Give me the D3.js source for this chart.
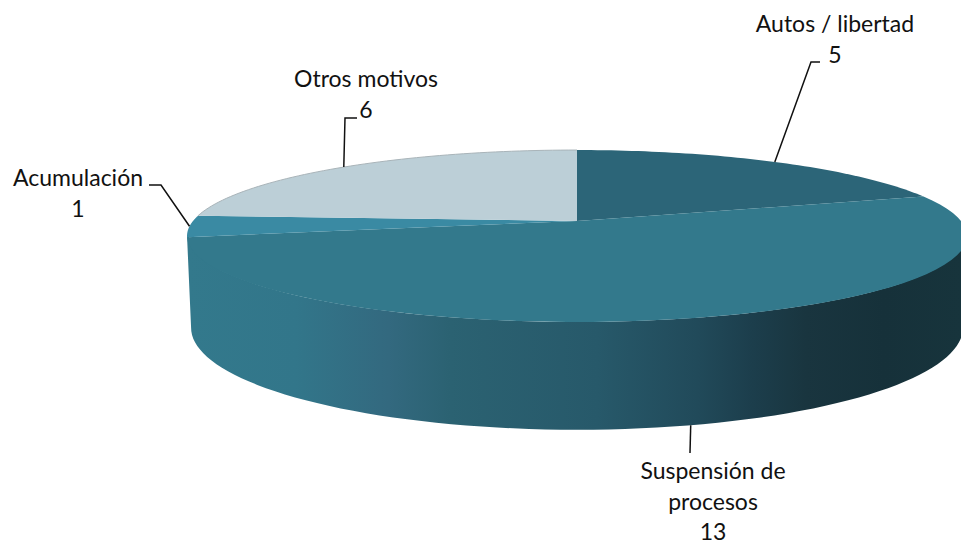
<!DOCTYPE html>
<html><head><meta charset="utf-8">
<script src="https://cdnjs.cloudflare.com/ajax/libs/d3/7.8.5/d3.min.js"></script>
<style>html,body{margin:0;padding:0;background:#fff}svg{display:block}
text{font-family:Lato,"Open Sans",sans-serif;font-size:23px;fill:#111}</style></head>
<body><svg id="c" width="961" height="544"></svg>
<script>
const categories = ["Autos / libertad","Suspensión de procesos","Acumulación","Otros motivos"];
const values = [5,13,1,6];
const topColors = ["#2c6578","#33798c","#3a8aa3","#bccfd7"];
const sideStops = [[0,"#33798c"],[0.14,"#32768a"],[0.26,"#33697f"],[0.34,"#2b6272"],[0.53,"#27596a"],[0.66,"#214a5a"],[0.73,"#1c3e4c"],[0.8,"#19353f"],[0.9,"#16313a"],[1,"#17343c"]];
const labelLines = [["Autos / libertad","5"],["Suspensión de","procesos","13"],["Acumulación","1"],["Otros motivos","6"]];
// label block: centre x, first baseline; leader elbow + end
const labelPos = [
 {x:835,y:32,elbow:[811,62],end:[820,62]},
 {x:713,y:479,elbow:[690,453],end:[690,453]},
 {x:78,y:186,elbow:[161,185],end:[149,185]},
 {x:366,y:87,elbow:[345,118],end:[357,118]}
];
const cx=577, cy=221, rx=384, persp=0.1744, ya=-44.8, depth=89, rxBottom=380;
const proj=(a,rad=rx)=>{const u=Math.sin(a),v=Math.cos(a),s=1/(1+persp*v);
  return [cx+rad*u*s,(cy+ya*v)*s];};
const projB=a=>{const v=Math.cos(a),s=1/(1+persp*v),p=proj(a,rxBottom);return [p[0],p[1]+depth*s];};
const arcs=d3.pie().sort(null).value(d=>d)(values);
const svg=d3.select("#c"),line=d3.line();
const grad=svg.append("defs").append("linearGradient").attr("id","side")
 .attr("gradientUnits","userSpaceOnUse").attr("x1",187).attr("x2",961).attr("y1",0).attr("y2",0);
sideStops.forEach(s=>grad.append("stop").attr("offset",s[0]).attr("stop-color",s[1]));
// side wall (tucked slightly under the top face so no seam shows)
const a0=100*Math.PI/180,a1=260*Math.PI/180;
const sweep=d3.range(0,81).map(i=>a0+(a1-a0)*i/80);
svg.append("path").attr("fill","url(#side)")
 .attr("d",line([proj(a0)].concat(sweep.map(a=>proj(a,rx-2)),[proj(a1)],sweep.slice().reverse().map(projB)))+"Z");
// top slices
svg.selectAll("path.top").data(arcs).join("path").attr("class","top")
 .attr("fill",(d,i)=>topColors[i])
 .attr("d",d=>{const n=60,pts=d3.range(n+1).map(i=>proj(d.startAngle+(d.endAngle-d.startAngle)*i/n));
   return line([[cx,cy]].concat(pts))+"Z";});
// rim of light slice
const o=arcs[3];
svg.append("path").attr("fill","none").attr("stroke","#a9b4b9").attr("stroke-width",1)
 .attr("d",line(d3.range(61).map(i=>proj(o.startAngle+(o.endAngle-o.startAngle)*i/60))));
// leaders
arcs.forEach((d,i)=>{const m=(d.startAngle+d.endAngle)/2,p=i===1?projB(m):proj(m),l=labelPos[i];
  svg.append("path").attr("fill","none").attr("stroke","#111").attr("stroke-width",1.5)
   .attr("d",line([p,l.elbow,l.end]));
  labelLines[i].forEach((t,k)=>svg.append("text").attr("x",l.x).attr("y",l.y+k*30.5)
   .attr("text-anchor","middle").text(t));
});
</script></body></html>
